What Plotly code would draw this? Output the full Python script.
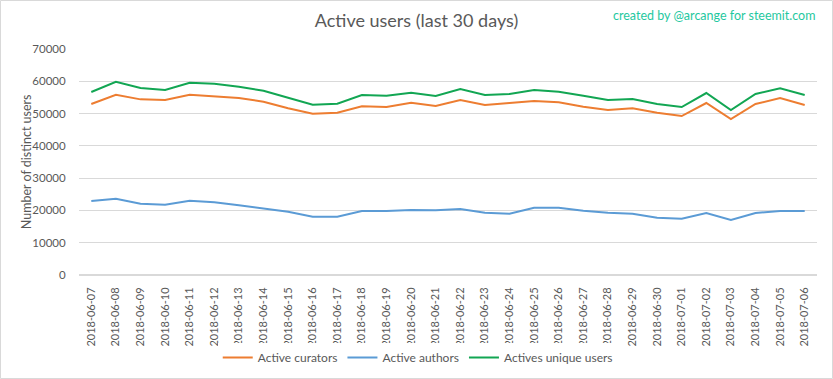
import plotly.graph_objects as go

dates = ["2018-06-07","2018-06-08","2018-06-09","2018-06-10","2018-06-11","2018-06-12",
         "2018-06-13","2018-06-14","2018-06-15","2018-06-16","2018-06-17","2018-06-18",
         "2018-06-19","2018-06-20","2018-06-21","2018-06-22","2018-06-23","2018-06-24",
         "2018-06-25","2018-06-26","2018-06-27","2018-06-28","2018-06-29","2018-06-30",
         "2018-07-01","2018-07-02","2018-07-03","2018-07-04","2018-07-05","2018-07-06"]

curators = [52960,55840,54400,54200,55840,55440,54820,53680,51620,49960,50270,52240,
            52020,53370,52340,54200,52650,53270,53890,53470,52130,51100,51620,50270,
            49240,53270,48310,52960,54820,52650]

authors = [22920,23640,22090,21780,23020,22510,21580,20650,19620,18070,18070,19820,
           19820,20130,20030,20440,19300,18990,20850,20850,19920,19300,18990,17750,
           17440,19200,17030,19200,19820,19820]

unique_users = [56680,59870,57910,57290,59560,59250,58320,57080,54910,52740,53050,55750,
                55540,56460,55440,57600,55750,56060,57290,56770,55540,54200,54510,52960,
                52030,56370,51100,56060,57810,55750]

FONT = "Lato, 'Open Sans', sans-serif"
GRAY = "#595959"
W, H = 833, 379
ML, MR, MT, MB = 79, 16, 49, 104
PW, PH = W - ML - MR, H - MT - MB

fig = go.Figure()
fig.add_trace(go.Scatter(x=dates, y=curators, mode="lines", name="Active curators",
                         line=dict(color="#ED7D31", width=2)))
fig.add_trace(go.Scatter(x=dates, y=authors, mode="lines", name="Active authors",
                         line=dict(color="#5B9BD5", width=2)))
fig.add_trace(go.Scatter(x=dates, y=unique_users, mode="lines", name="Actives unique users",
                         line=dict(color="#12A653", width=2)))

fig.update_layout(
    width=W, height=H,
    margin=dict(l=ML, r=MR, t=MT, b=MB, autoexpand=False),
    paper_bgcolor="white", plot_bgcolor="white",
    font=dict(family=FONT, color=GRAY, size=12),
    title=dict(text="Active users (last 30 days)", x=0.5, xanchor="center",
               y=0.945, yanchor="middle",
               font=dict(family=FONT, size=18, color=GRAY)),
    showlegend=True,
    legend=dict(orientation="h", x=0.459, xanchor="center", y=-0.365, yanchor="middle",
                font=dict(family=FONT, size=12, color=GRAY), itemwidth=30,
                traceorder="normal"),
    xaxis=dict(type="category", range=[-0.5, len(dates) - 0.5], tickangle=-90,
               showgrid=False, showline=False,
               ticks="outside", ticklen=7, tickcolor="rgba(0,0,0,0)",
               tickfont=dict(family=FONT, size=11, color=GRAY),
               zeroline=False, fixedrange=True, automargin=False),
    yaxis=dict(range=[0, 70000], dtick=10000, tickformat="d", showgrid=True,
               gridcolor="#D9D9D9", gridwidth=1, zeroline=True, zerolinecolor="#D9D9D9",
               showline=False, ticks="outside", ticklen=10, tickcolor="rgba(0,0,0,0)",
               tickfont=dict(family=FONT, size=11.5, color=GRAY), automargin=False,
               fixedrange=True),
    shapes=[dict(type="rect", xref="paper", yref="paper",
                 x0=-(ML - 0.5) / PW, x1=1 + (MR - 0.5) / PW,
                 y0=-(MB - 0.5) / PH, y1=1 + (MT - 0.5) / PH,
                 line=dict(color="#D9D9D9", width=1), layer="below")],
    annotations=[
        dict(text="created by @arcange for steemit.com", xref="paper", yref="paper",
             x=1.0, xanchor="right", y=1.0, yanchor="bottom", yshift=24,
             showarrow=False, font=dict(family=FONT, size=12.5, color="#1FC8A0")),
        dict(text="Number of distinct users", xref="paper", yref="paper",
             x=-0.0715, xanchor="center", y=0.5, yanchor="middle", textangle=-90,
             showarrow=False, font=dict(family=FONT, size=12.5, color=GRAY)),
    ],
)

fig.write_html("out.html", config={"displayModeBar": False},
               post_script="document.body.style.margin='0';")
